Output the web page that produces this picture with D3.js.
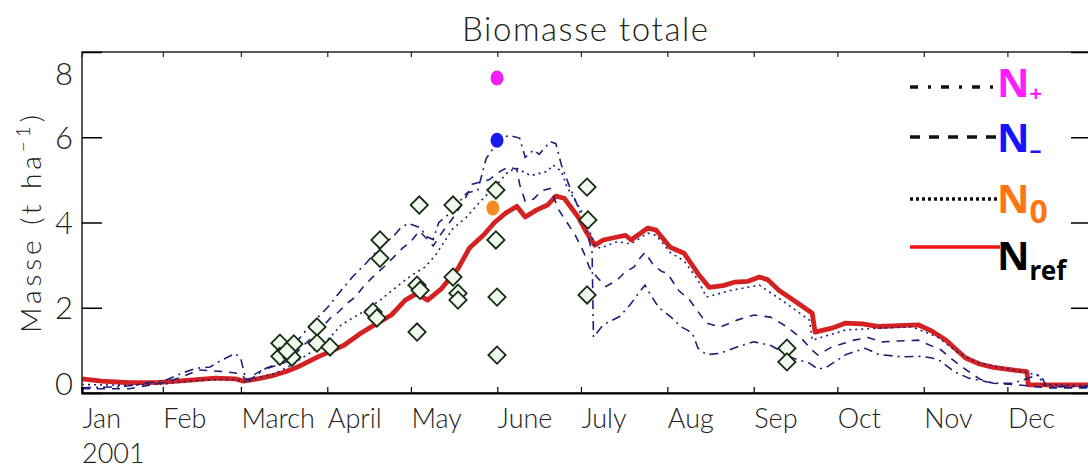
<!DOCTYPE html>
<html><head><meta charset="utf-8">
<script src="https://cdn.jsdelivr.net/npm/d3@7"></script>
<style>body{margin:0;background:#fff} svg{display:block}</style>
</head><body><svg id="c" width="1088" height="468"></svg>
<script>
// ---------------- DATA ----------------
const months = ["Jan","Feb","March","April","May","June","July","Aug","Sep","Oct","Nov","Dec"];
const yearLabel = "2001";
const yTicks = [0,2,4,6,8];
const chartTitle = "Biomasse totale";

// [day of year 2001, biomass t/ha]
const nRef = [[3,0.33],[10,0.28],[20,0.24],[31,0.25],[42,0.3],[51,0.35],[58,0.33],[61,0.28],[66,0.33],[71,0.4],[76,0.5],[81,0.63],[88,0.86],[92,0.97],[97,1.12],[103,1.4],[109,1.64],[114,1.83],[119,2.18],[123,2.33],[127,2.18],[132,2.45],[138,2.93],[142,3.4],[147,3.7],[151,4.0],[155,4.22],[159,4.38],[162,4.13],[166,4.29],[170,4.41],[173,4.62],[176,4.57],[181,4.13],[184,3.77],[187,3.47],[190,3.59],[195,3.66],[198,3.7],[200,3.59],[206,3.87],[209,3.82],[214,3.42],[219,3.28],[224,2.8],[228,2.48],[233,2.52],[237,2.6],[242,2.62],[246,2.72],[249,2.66],[253,2.41],[260,2.1],[265,1.87],[266,1.43],[272,1.52],[277,1.64],[283,1.62],[289,1.56],[296,1.58],[303,1.6],[308,1.45],[313,1.24],[320,0.82],[325,0.68],[330,0.6],[336,0.55],[342,0.5],[342.5,0.19],[364,0.19]];

const nZero = [[3,0.2],[20,0.18],[33,0.22],[45,0.3],[55,0.32],[60,0.3],[62,0.25],[66,0.35],[72,0.45],[78,0.65],[85,0.95],[92,1.3],[96,1.6],[103,1.87],[110,2.18],[116,2.5],[121,2.75],[126,2.95],[130,3.25],[133,3.55],[136,3.85],[141,4.13],[146,4.5],[152,4.9],[156,5.2],[159,5.27],[164,5.1],[170,5.2],[172,5.35],[175,5.2],[177,4.83],[182,4.29],[185,3.82],[187,3.45],[189,3.4],[195,3.55],[200,3.5],[206,3.75],[209,3.7],[214,3.3],[219,3.1],[224,2.65],[227,2.25],[236,2.41],[246,2.53],[254,2.18],[264,1.71],[265,1.24],[277,1.48],[289,1.52],[301,1.55],[310,1.31],[317,0.96],[325,0.7],[337,0.54],[346,0.42],[348,0.2],[364,0.17]];

const nMinus = [[3,0.1],[20,0.1],[33,0.25],[39,0.38],[45,0.54],[50,0.52],[54,0.5],[60,0.45],[62,0.3],[64,0.4],[68,0.55],[73,0.65],[77,0.75],[83,1.15],[88,1.45],[92,1.75],[95,1.9],[98,2.1],[101,2.25],[104,2.5],[107,2.7],[112,3.0],[115,3.2],[118,3.4],[121,3.55],[124,3.8],[127,3.6],[129,3.45],[132,3.75],[136,4.1],[140,4.5],[143,4.9],[146,4.95],[149,5.0],[153,5.2],[156,5.3],[159,5.25],[160,4.9],[162,4.5],[165,4.55],[168,4.75],[171,4.8],[174,4.3],[177,4.0],[180,3.7],[183,3.3],[185,2.95],[188,2.7],[191,2.5],[195,2.65],[198,2.85],[201,2.95],[203,3.15],[205,3.3],[208,3.0],[211,2.85],[213,2.81],[217,2.41],[221,2.18],[227,1.64],[232,1.55],[238,1.71],[244,1.83],[250,1.78],[256,1.55],[261,1.29],[265,1.0],[267,0.89],[272,1.08],[280,1.24],[285,1.3],[290,1.2],[296,1.22],[303,1.24],[308,1.1],[311,1.02],[315,0.8],[319,0.6],[325,0.33],[330,0.23],[337,0.2],[345,0.15],[350,0.12],[364,0.12]];

const nPlus = [[3,0.12],[18,0.15],[33,0.3],[39,0.47],[44,0.58],[49,0.61],[53,0.77],[58,0.93],[60,0.8],[61.5,0.38],[63,0.3],[69,0.58],[75,0.73],[80,1.2],[85,1.6],[91,2.0],[96,2.41],[100,2.72],[105,3.05],[109,3.35],[115,3.7],[117,3.85],[120,3.98],[124,3.89],[127,3.66],[129,3.6],[131,4.0],[135,4.22],[141,4.69],[145,4.76],[148,5.5],[152,5.88],[156,6.05],[160,5.98],[162,5.53],[165,5.7],[167,5.6],[171,5.9],[173,5.85],[175,5.35],[178,4.83],[181,4.36],[184,3.82],[186,3.3],[186.5,1.31],[190,1.6],[196,1.8],[200,2.1],[203,2.37],[205,2.53],[207,2.3],[210,2.0],[214,1.8],[218,1.55],[220,1.48],[222,1.4],[224,1.05],[227,0.9],[232,0.93],[238,1.08],[244,1.2],[250,1.12],[258,0.82],[264,0.7],[267,0.56],[270,0.6],[277,0.9],[284,1.05],[289,0.9],[297,0.85],[304,0.86],[308,0.82],[311,0.75],[316,0.5],[321,0.35],[330,0.23],[337,0.23],[344,0.38],[347,0.42],[349,0.15],[364,0.15]];

// field observations [day of year, biomass]
const observations = [[74,1.17],[79,1.15],[74,0.86],[78.3,0.84],[76.5,0.98],[87.3,1.55],[87.3,1.17],[92,1.08],[109.9,3.59],[109.9,3.16],[107.4,1.9],[108.8,1.76],[124,4.41],[123.2,2.53],[124.3,2.41],[123.2,1.43],[136.1,4.41],[136.1,2.72],[137.9,2.34],[137.9,2.18],[151.5,4.76],[151.5,3.59],[151.9,2.25],[151.9,0.89],[184.2,4.83],[184.5,4.06],[184.2,2.3],[255.9,1.05],[255.9,0.73]];

// single values for the nitrogen treatments
const pointNames = ["N+","N-","N0"];
const pointDoy = [151.9, 151.9, 150.4];
const pointVal = [7.39, 5.93, 4.34];

const legendMain = ["N","N","N","N"];
const legendSub = ["+","-","0","ref"];

// ---------------- DRAW ----------------
const svg = d3.select("#c");
const L = 82, R = 1091, T = 52, B = 393;
const navy = "#1f1f78";
const font = "Lato, 'Liberation Sans', 'DejaVu Sans', sans-serif";
const fw = 300;
const t0 = new Date(2001,0,1).getTime();
const dateOf = d => new Date(t0 + (d-1)*864e5);

const x = d3.scaleTime().domain([new Date(2001,0,3), new Date(2001,11,31)]).range([L,R]);
const y = d3.scaleLinear().domain([0,8]).range([B,T]);

svg.append("rect").attr("width",1088).attr("height",468).attr("fill","#fff");

svg.append("defs").append("clipPath").attr("id","clip")
  .append("rect").attr("x",L).attr("y",T).attr("width",R-L).attr("height",B-T);

const line = d3.line().x(d=>x(dateOf(d[0]))).y(d=>y(d[1]));
const plot = svg.append("g").attr("clip-path","url(#clip)");

plot.append("path").datum(nRef).attr("d",line).attr("fill","none")
  .attr("stroke","#d42222").attr("stroke-width",4.8).attr("stroke-linejoin","round");
const styles = [
  {data:nZero, dash:"2,4"},
  {data:nMinus, dash:"8,7"},
  {data:nPlus, dash:"9,5,2,5"}
];
styles.forEach(s=>{
  plot.append("path").datum(s.data).attr("d",line).attr("fill","none")
    .attr("stroke",navy).attr("stroke-width",1.6).attr("stroke-dasharray",s.dash);
});

// observations: diamonds
const sym = d3.symbol().type(d3.symbolSquare).size(150);
svg.append("g").selectAll("path").data(observations).join("path")
  .attr("d",sym)
  .attr("transform",d=>`translate(${x(dateOf(d[0]))},${y(d[1])}) rotate(45)`)
  .attr("fill","#f2f9ee").attr("stroke","#142e14").attr("stroke-width",1.8);

// coloured treatment points
const ptColors = ["#f01ef0","#1818e8","#f58a1f"];
svg.append("g").selectAll("ellipse").data(pointNames).join("ellipse")
  .attr("cx",(d,i)=>x(dateOf(pointDoy[i])))
  .attr("cy",(d,i)=>y(pointVal[i]))
  .attr("rx",6.5).attr("ry",7.5)
  .attr("fill",(d,i)=>ptColors[i]);

// frame
svg.append("rect").attr("x",L).attr("y",T).attr("width",R-L).attr("height",B-T)
  .attr("fill","none").attr("stroke","#222").attr("stroke-width",1.5);

// axes
const monthTicks = months.map((m,i)=> i===0 ? new Date(2001,0,3) : new Date(2001,i,1));
const gx = svg.append("g").attr("transform",`translate(0,${B})`)
  .call(d3.axisBottom(x).tickValues(monthTicks).tickSize(-6).tickFormat((d,i)=>months[i]));
gx.select(".domain").attr("stroke","#000").attr("stroke-width",2.2);
gx.selectAll(".tick line").attr("stroke","#000").attr("stroke-width",1.2);
gx.selectAll(".tick text").attr("text-anchor","start").attr("x",0).attr("y",35).attr("dy",0)
  .attr("fill","#222").style("font-family",font).style("font-weight",fw).style("font-size","27px");

const gt = svg.append("g").attr("transform",`translate(0,${T})`)
  .call(d3.axisTop(x).tickValues(monthTicks).tickSize(-5).tickFormat(""));
gt.select(".domain").remove();
gt.selectAll(".tick line").attr("stroke","#222").attr("stroke-width",1.2);

const gy = svg.append("g").attr("transform",`translate(${L},0)`)
  .call(d3.axisLeft(y).tickValues(yTicks).tickSize(-20).tickPadding(9).tickFormat(d3.format("d")));
gy.select(".domain").remove();
gy.selectAll(".tick line").attr("stroke","#000").attr("stroke-width",1.5);
gy.selectAll(".tick text").attr("fill","#222").style("font-family",font).style("font-weight",fw).style("font-size","31px")
  .attr("dy",d=> d===8 ? "1.05em" : d===0 ? "0.05em" : "0.35em");

const gr = svg.append("g").attr("transform",`translate(${R},0)`)
  .call(d3.axisRight(y).tickValues(yTicks).tickSize(-20).tickFormat(""));
gr.select(".domain").remove();
gr.selectAll(".tick line").attr("stroke","#000").attr("stroke-width",1.5);

svg.append("text").attr("x",L).attr("y",463).text(yearLabel)
  .attr("fill","#222").style("font-family",font).style("font-weight",fw).style("font-size","27px");

// title
svg.append("text").attr("x",585).attr("y",41).attr("text-anchor","middle")
  .attr("textLength",246).attr("lengthAdjust","spacing")
  .attr("fill","#222").style("font-family",font).style("font-weight",fw).style("font-size","33px").text(chartTitle);

// y label
const yl = svg.append("text").attr("transform","translate(41,224) rotate(-90)")
  .attr("text-anchor","middle").attr("textLength",218).attr("lengthAdjust","spacing")
  .attr("fill","#222").style("font-family",font).style("font-weight",fw).style("font-size","28px");
yl.append("tspan").text("Masse (t ha");
yl.append("tspan").attr("dy",-11).style("font-size","19px").text("\u22121");
yl.append("tspan").attr("dy",11).text(")");

// legend
const legRows = [87,137,199,247];
const legDash = ["8,10,3,10","10,9","3,3",null];
const legLineCol = ["#111","#111","#111","#f01010"];
const legTextCol = ["#ff1cff","#1414ff","#ff7514","#000"];
const lg = svg.append("g");
legendSub.forEach((s,i)=>{
  const yy = legRows[i];
  lg.append("line").attr("x1",910).attr("x2",1000).attr("y1",yy).attr("y2",yy)
    .attr("stroke",legLineCol[i]).attr("stroke-width",3.5)
    .attr("stroke-dasharray",legDash[i]);
  const baseY = [97,152,213,270][i];
  const tx = lg.append("text").attr("x",997).attr("y",baseY).attr("fill",legTextCol[i])
    .style("font-family","'Noto Sans', 'DejaVu Sans', sans-serif").style("font-weight","700")
    .style("font-size","40px");
  tx.append("tspan").text(legendMain[i]);
  const subSize = [22,24,32,26][i];
  const subDy = [4,6,10,10][i];
  tx.append("tspan").attr("dy",subDy).style("font-size",subSize+"px")
    .text(s === "-" ? "\u2013" : s);
});
</script></body></html>
